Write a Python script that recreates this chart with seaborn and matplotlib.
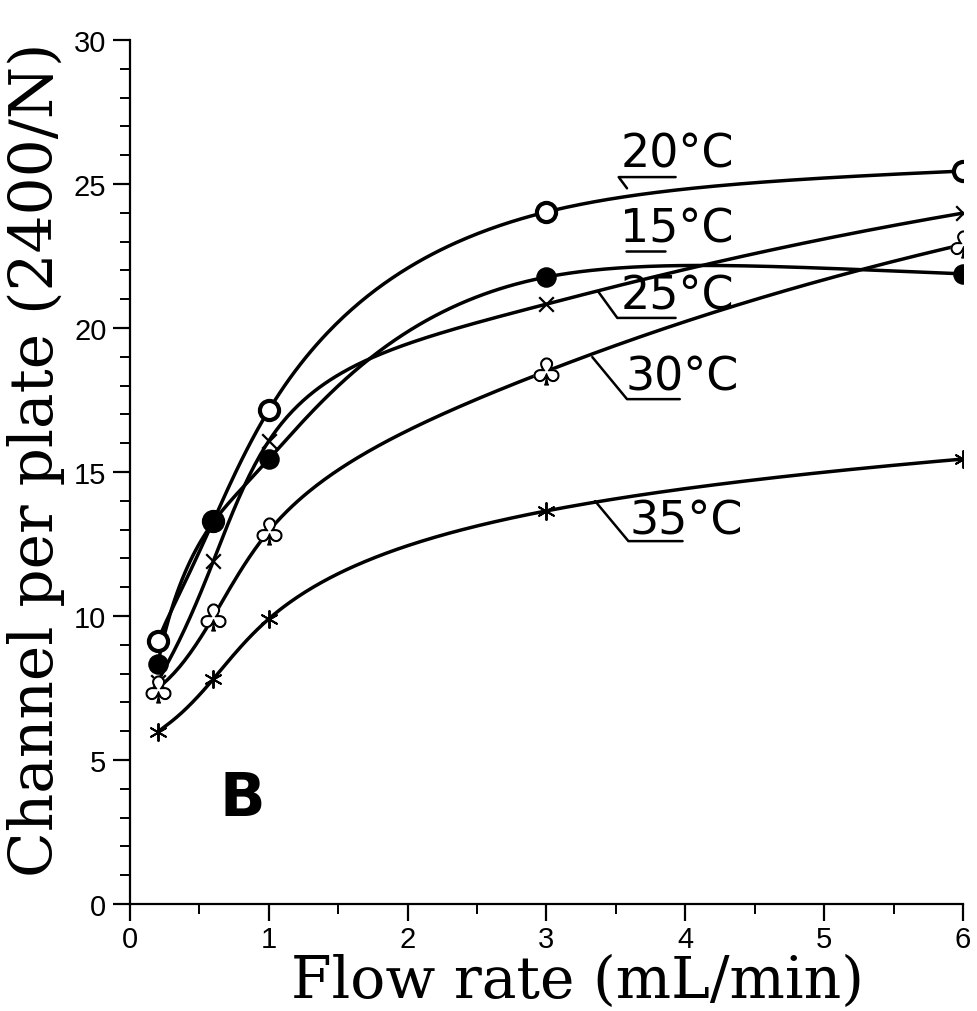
import numpy as np
import pandas as pd
import matplotlib
matplotlib.use("Agg")
import matplotlib.pyplot as plt
import seaborn as sns
from matplotlib.ticker import MultipleLocator

# ---- data ----
flow_rate = [0.2, 0.6, 1.0, 3.0, 6.0]
t20 = [9.13, 13.3, 17.15, 24.03, 25.45]
t15 = [8.33, 13.26, 15.45, 21.77, 21.88]
t25 = [7.7, 11.9, 16.08, 20.83, 23.99]
t30 = [7.47, 9.97, 12.95, 18.5, 22.9]
t35 = [5.97, 7.81, 9.9, 13.65, 15.45]
series_names = ["20°C", "15°C", "25°C", "30°C", "35°C"]
x_ticks = [0, 1, 2, 3, 4, 5, 6]
y_ticks = [0, 5, 10, 15, 20, 25, 30]

series = dict(zip(series_names, [t20, t15, t25, t30, t35]))


def smooth_curve(x, y, n=300):
    """Natural cubic spline through the points, built in log(x) space."""
    x = np.asarray(x, float); y = np.asarray(y, float)
    u = np.log(x)
    k = len(u); h = np.diff(u)
    A = np.zeros((k, k)); b = np.zeros(k)
    A[0, 0] = A[-1, -1] = 1
    for i in range(1, k - 1):
        A[i, i - 1] = h[i - 1]; A[i, i] = 2 * (h[i - 1] + h[i]); A[i, i + 1] = h[i]
        b[i] = 3 * ((y[i + 1] - y[i]) / h[i] - (y[i] - y[i - 1]) / h[i - 1])
    c = np.linalg.solve(A, b)
    bb = (y[1:] - y[:-1]) / h - h * (2 * c[:-1] + c[1:]) / 3
    d = (c[1:] - c[:-1]) / (3 * h)
    xs = np.linspace(x[0], x[-1], n)
    us = np.log(xs)
    idx = np.clip(np.searchsorted(u, us, side="right") - 1, 0, k - 2)
    du = us - u[idx]
    ys = y[idx] + bb[idx] * du + c[idx] * du ** 2 + d[idx] * du ** 3
    return xs, ys


rows = []
for name, vals in series.items():
    xs, ys = smooth_curve(flow_rate, vals)
    for a, v in zip(xs, ys):
        rows.append({"flow": a, "val": v, "temp": name})
smooth = pd.DataFrame(rows)

sns.set_style("ticks")
plt.rcParams["font.family"] = ["DejaVu Sans"]
plt.rcParams["text.color"] = "black"
plt.rcParams["axes.labelcolor"] = "black"
plt.rcParams["xtick.color"] = "black"
plt.rcParams["ytick.color"] = "black"

fig = plt.figure(figsize=(9.78, 10.12), dpi=100)
ax = fig.add_axes([130 / 978, 1 - 905 / 1012, (963 - 130) / 978, (905 - 41) / 1012])

sns.lineplot(data=smooth, x="flow", y="val", units="temp", estimator=None,
             sort=False, color="black", linewidth=2.5, ax=ax, legend=False)

marker_styles = {
    "20°C": [dict(marker="o", s=190, facecolor="white", edgecolor="black", linewidth=3)],
    "15°C": [dict(marker="o", s=190, color="black", edgecolor="black", linewidth=1)],
    "25°C": [dict(marker="x", s=110, color="black", linewidth=1.6)],
    "30°C": [dict(marker="$♣$", s=380, color="white", edgecolor="white", linewidth=0.5),
             dict(marker="$♧$", s=380, color="black", edgecolor="black", linewidth=0.8)],
    "35°C": [dict(marker=(6, 2, 0), s=150, color="black", linewidth=1.4)],
}
for name in series_names:
    for st in marker_styles[name]:
        sns.scatterplot(x=flow_rate, y=series[name], ax=ax, zorder=5, legend=False, **st)

ax.set_xlim(0, 6)
ax.set_ylim(0, 30)
ax.set_xticks(x_ticks)
ax.set_yticks(y_ticks)
ax.xaxis.set_minor_locator(MultipleLocator(0.5))
ax.yaxis.set_minor_locator(MultipleLocator(1))
sns.despine(ax=ax)
for sp in ["left", "bottom"]:
    ax.spines[sp].set_linewidth(1.6)
    ax.spines[sp].set_color("black")
ax.tick_params(which="major", length=12, width=1.6, color="black", labelcolor="black")
ax.tick_params(axis="x", which="major", pad=3)
ax.tick_params(axis="y", which="major", pad=5)
ax.tick_params(which="minor", length=7, width=1.4, color="black")
tick_font = ["Liberation Sans", "DejaVu Sans"]
ax.set_xticklabels([str(t) for t in x_ticks], fontsize=21, family=tick_font)
ax.set_yticklabels([str(t) for t in y_ticks], fontsize=21, family=tick_font)

label_font = ["DejaVu Serif"]
ax.set_xlabel("Flow rate (mL/min)", fontsize=42, family=label_font, va="center")
ax.xaxis.set_label_coords(0.537, -0.089)
ax.set_ylabel("Channel per plate (2400/N)", fontsize=43, family=label_font, va="center")
ax.yaxis.set_label_coords(-0.113, 0.515)

# curve labels with leader lines
labels = {
    "20°C": ((3.94, 26.04), [(3.93, 25.24), (3.52, 25.24), (3.58, 24.85)]),
    "15°C": ((3.94, 23.44), [(3.57, 22.67), (3.85, 22.67)]),
    "25°C": ((3.94, 21.11), [(3.93, 20.35), (3.51, 20.35), (3.37, 21.28)]),
    "30°C": ((3.98, 18.30), [(3.96, 17.53), (3.58, 17.53), (3.33, 18.99)]),
    "35°C": ((4.01, 13.30), [(3.98, 12.60), (3.59, 12.60), (3.35, 13.99)]),
}
for name, (pos, path) in labels.items():
    ax.text(pos[0], pos[1], name, fontsize=33, ha="center", va="center", color="black")
    px, py = zip(*path)
    ax.plot(px, py, color="black", linewidth=1.8)

ax.text(0.81, 3.65, "B", fontsize=43, fontweight="bold", ha="center", va="center", color="black")

fig.savefig("out.png", dpi=100)
